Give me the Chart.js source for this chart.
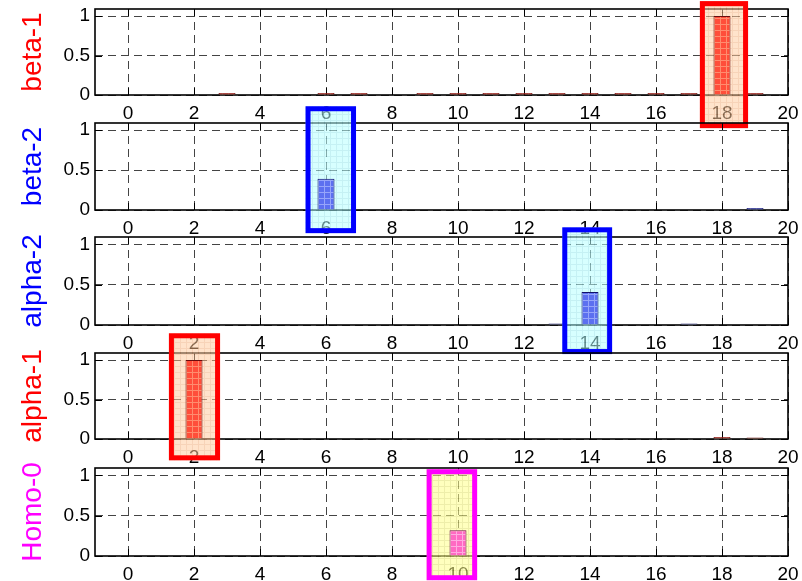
<!DOCTYPE html>
<html><head><meta charset="utf-8">
<script src="https://cdn.jsdelivr.net/npm/chart.js@4.4.1/dist/chart.umd.min.js"></script>
<style>
html,body{margin:0;padding:0;background:#fff;}
#wrap{position:relative;width:802px;height:581px;overflow:hidden;background:#fff;}
#wrap canvas{position:absolute;left:0;top:0;}
</style></head><body><div id="wrap"></div>
<script>
// ---- data ----
const positions   = [1,2,3,4,5,6,7,8,9,10,11,12,13,14,15,16,17,18,19];
const xTickValues = [0,2,4,6,8,10,12,14,16,18,20];
const yTickValues = [0,0.5,1];
const panelNames  = ['beta-1','beta-2','alpha-2','alpha-1','Homo-0'];
//                1  2    3      4  5  6      7      8  9      10     11     12     13     14     15     16     17     18    19
const beta1  = [0, 0,   0.025, 0, 0, 0.025, 0.025, 0, 0.025, 0.025, 0.025, 0.025, 0.025, 0.025, 0.025, 0.025, 0.025, 1.0,  0.025];
const beta2  = [0, 0,   0,     0, 0, 0.39,  0,     0, 0,     0,     0,     0,     0,     0,     0,     0,     0,     0,    0.025];
const alpha2 = [0, 0,   0,     0, 0, 0,     0,     0, 0,     0,     0,     0,     0.02,  0.41,  0,     0,     0.02,  0,    0];
const alpha1 = [0, 1.0, 0,     0, 0, 0,     0,     0, 0,     0,     0,     0,     0,     0,     0,     0,     0,     0.025,0.02];
const homo0  = [0, 0,   0,     0, 0, 0,     0,     0, 0,     0.32,  0,     0,     0,     0,     0,     0,     0,     0,    0];
const highlightX = [[17.33,18.79],[5.38,6.91],[13.16,14.67],[1.24,2.79],[9.05,10.58]];
const highlightY = [[-0.42,1.19],[-0.29,1.30],[-0.36,1.21],[-0.27,1.34],[-0.30,1.075]];

// ---- styles / layout ----
const seriesList  = [beta1, beta2, alpha2, alpha1, homo0];
const titleColors = ['#ff0000','#0000ff','#0000ff','#ff0000','#ff00ff'];
const barTheme    = ['red','blue','blue','red','pink'];
const boxTheme    = ['peach','cyan','cyan','peach','yellow'];
const areaTop     = [9, 123, 237, 353, 468];
const areaBottom  = [95, 210, 325, 439, 556];
const W = 802, H = 581, X_AXIS_H = 25, Y_AXIS_W = 95, RIGHT_PAD = 14;
const FONT = "'Liberation Sans', Arial, Helvetica, sans-serif";

function gridPattern(base, line, step){
  const c = document.createElement('canvas'); c.width = step; c.height = step;
  const g = c.getContext('2d');
  g.fillStyle = base; g.fillRect(0,0,step,step);
  g.fillStyle = line; g.fillRect(0,0,step,1); g.fillRect(0,0,1,step);
  return g.createPattern(c,'repeat');
}
const barFills = {
  red:  {fill: gridPattern('rgb(255,78,58)','rgb(255,140,110)',6), border:'#6a0c0c'},
  blue: {fill: gridPattern('rgb(92,112,240)','rgb(150,165,250)',6), border:'#10106a'},
  pink: {fill: gridPattern('rgb(255,105,195)','rgb(255,170,225)',6), border:'#6e1050'}
};
const boxFills = {
  peach:  gridPattern('rgb(255,204,160)','rgb(240,176,126)',6),
  cyan:   gridPattern('rgb(182,255,255)','rgb(150,230,235)',6),
  yellow: gridPattern('rgb(255,255,137)','rgb(225,225,100)',6)
};

const panelPlugin = {
  id: 'panel',
  beforeDatasetsDraw(chart, args, o){
    const ctx = chart.ctx, xs = chart.scales.x, ys = chart.scales.y, a = chart.chartArea;
    ctx.save();
    // inner ticks
    ctx.strokeStyle = '#000'; ctx.lineWidth = 1;
    ctx.beginPath();
    xTickValues.forEach(v => {
      const px = Math.round(xs.getPixelForValue(v)) + 0.5;
      ctx.moveTo(px, a.bottom); ctx.lineTo(px, a.bottom - 7);
      ctx.moveTo(px, a.top); ctx.lineTo(px, a.top + 7);
    });
    yTickValues.forEach(v => {
      const py = Math.round(ys.getPixelForValue(v)) + 0.5;
      ctx.moveTo(a.left, py); ctx.lineTo(a.left + 7, py);
      ctx.moveTo(a.right, py); ctx.lineTo(a.right - 7, py);
    });
    ctx.stroke();
    // frame
    ctx.lineWidth = 1.6;
    ctx.strokeRect(a.left, a.top, a.right - a.left, a.bottom - a.top);
    // translucent highlight box fill
    const x1 = xs.getPixelForValue(o.bx[0]), x2 = xs.getPixelForValue(o.bx[1]);
    const y1 = ys.getPixelForValue(o.by[1]), y2 = ys.getPixelForValue(o.by[0]);
    ctx.globalAlpha = 0.55;
    ctx.fillStyle = o.fill;
    ctx.fillRect(x1, y1, x2-x1, y2-y1);
    ctx.restore();
  },
  afterDatasetsDraw(chart, args, o){
    const ctx = chart.ctx, xs = chart.scales.x, ys = chart.scales.y;
    const x1 = xs.getPixelForValue(o.bx[0]), x2 = xs.getPixelForValue(o.bx[1]);
    const y1 = ys.getPixelForValue(o.by[1]), y2 = ys.getPixelForValue(o.by[0]);
    const lw = 5;
    ctx.save();
    ctx.lineWidth = lw; ctx.strokeStyle = o.stroke;
    ctx.strokeRect(x1 + lw/2, y1 + lw/2, x2 - x1 - lw, y2 - y1 - lw);
    ctx.restore();
  }
};

const wrap = document.getElementById('wrap');
panelNames.forEach((name, i) => {
  const cv = document.createElement('canvas');
  cv.width = W; cv.height = H; cv.style.zIndex = String(i + 1);
  wrap.appendChild(cv);
  const vals = seriesList[i];
  const theme = barFills[barTheme[i]];
  new Chart(cv, {
    type: 'bar',
    data: {
      datasets: [{
        data: positions.map((x, k) => ({x: x, y: vals[k]})),
        backgroundColor: theme.fill,
        borderColor: theme.border,
        borderWidth: 1,
        barThickness: 17,
        inflateAmount: 0
      }]
    },
    options: {
      responsive: false,
      animation: false,
      events: [],
      layout: {padding: {left: 0, right: RIGHT_PAD, top: areaTop[i], bottom: H - areaBottom[i] - X_AXIS_H}},
      plugins: {
        legend: {display: false},
        tooltip: {enabled: false},
        panel: {bx: highlightX[i], by: highlightY[i], fill: boxFills[boxTheme[i]], stroke: titleColors[i]}
      },
      scales: {
        x: {
          type: 'linear', min: -1, max: 20, offset: false,
          afterBuildTicks: s => { s.ticks = xTickValues.map(v => ({value: v})); },
          afterFit: s => { s.height = X_AXIS_H; s.paddingLeft = 0; s.paddingRight = 0; },
          ticks: {autoSkip: false, maxRotation: 0, minRotation: 0, padding: 7, color: '#000',
                  font: {family: FONT, size: 19}, callback: v => String(v)},
          grid: {offset: false, drawTicks: false, color: '#444', lineWidth: 1},
          border: {display: false, dash: [8, 5]}
        },
        y: {
          type: 'linear', min: 0, max: 1.09,
          afterBuildTicks: s => { s.ticks = yTickValues.map(v => ({value: v})); },
          afterFit: s => { s.width = Y_AXIS_W; s.paddingTop = 0; s.paddingBottom = 0; },
          ticks: {padding: 5, color: '#000', font: {family: FONT, size: 19}, callback: v => String(v)},
          grid: {drawTicks: false, color: '#444', lineWidth: 1},
          border: {display: false, dash: [8, 5]},
          title: {display: true, text: name, color: titleColors[i],
                  font: {family: FONT, size: 28}, padding: {top: 16, bottom: 0}}
        }
      }
    },
    plugins: [panelPlugin]
  });
});
</script></body></html>
